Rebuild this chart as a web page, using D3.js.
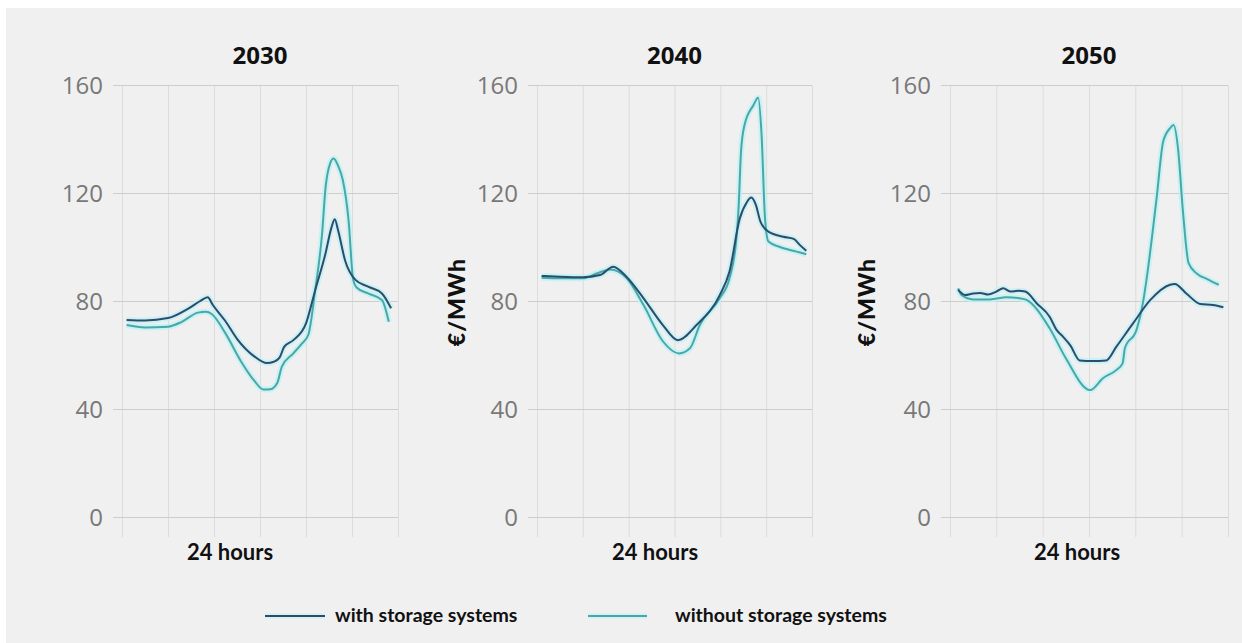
<!DOCTYPE html>
<html>
<head>
<meta charset="utf-8">
<script src="https://cdn.jsdelivr.net/npm/d3@7/dist/d3.min.js"></script>
<style>
  html, body { margin: 0; padding: 0; background: #ffffff; }
  svg { display: block; }
</style>
</head>
<body>
<svg id="chart" width="1242" height="643"></svg>
<script>
// ---------- DATA ----------
const years = ["2030", "2040", "2050"];
const yTicks = [0, 40, 80, 120, 160];
const xTicks = [0, 4, 8, 12, 16, 20, 24];
const xAxisTitle = "24 hours";
const yAxisTitle = "€/MWh";
const seriesNames = ["with storage systems", "without storage systems"];

const hours2030With = [0.4, 2, 4, 5.8, 6.8, 7.45, 7.9, 9, 10, 11.5, 12.6, 13.2, 13.7, 14.1, 14.9, 16, 16.8, 17.7, 18.2, 18.5, 18.8, 19.4, 20.3, 21.4, 22.6, 23.4];
const price2030With = [73, 72.8, 73.7, 77.3, 80, 81.4, 78.5, 72.5, 66, 59.5, 57, 57.5, 59, 63, 65.5, 71.7, 84, 97.7, 107, 110.3, 106, 95, 87.8, 85.3, 82.8, 77.3];
const hours2030Without = [0.4, 2, 4, 5.2, 6.6, 7.3, 7.8, 9, 10.3, 11.5, 12.3, 12.9, 13.5, 13.9, 14.9, 15.6, 16.2, 16.8, 17.4, 17.7, 18.1, 18.4, 18.8, 19.2, 19.7, 20.1, 20.4, 21.4, 22.6, 23.2];
const price2030Without = [71.1, 70.2, 70.5, 72.3, 75.7, 76, 75.2, 68, 58, 50.5, 47.2, 47.3, 49.6, 55.7, 60.6, 64, 67.5, 84, 105, 122, 131, 132.8, 130, 124.8, 110, 88, 85, 82.8, 80.4, 72.3];

const hours2040With = [0.4, 2, 4, 5.5, 6.65, 7.8, 9.3, 11, 12.3, 13.9, 15.95, 16.8, 17.7, 18.3, 18.7, 19.1, 19.5, 20.2, 21.5, 22.4, 22.95, 23.5];
const price2040With = [89.3, 89, 88.8, 89.6, 92.7, 89, 81, 71, 65.5, 71, 82.2, 90.9, 110.6, 116.5, 118.3, 115.6, 109.4, 105.7, 103.8, 103, 100.7, 98.6];
const hours2040Without = [0.4, 2, 4, 5.2, 6.4, 7.8, 9.3, 11, 12.4, 13.35, 14.2, 15.95, 16.8, 17.4, 17.6, 17.8, 18.1, 18.9, 19.3, 19.6, 19.9, 20.2, 21.2, 22.65, 23.5];
const price2040Without = [88.6, 88.4, 88.4, 90.2, 91.7, 88.6, 78.5, 65, 60.6, 62.5, 71, 81, 88.4, 103, 115, 135, 145, 152.6, 155.3, 141.5, 110.6, 102, 100, 98.3, 97.3];

const hours2050With = [0.7, 1.3, 2, 2.6, 3.3, 4, 4.6, 5.2, 5.9, 6.5, 7.5, 8.6, 9.2, 9.75, 10.4, 11.2, 12.3, 13.5, 14.35, 15.8, 17.3, 19, 19.4, 20.4, 21.6, 22.7, 23.6];
const price2050With = [84.1, 82.2, 82.8, 83, 82.4, 83.5, 84.7, 83.5, 83.8, 83.5, 79.1, 74.2, 69.3, 66.8, 63.5, 58, 57.8, 58, 63, 71.7, 80.4, 86, 86.3, 82.8, 78.9, 78.5, 77.7];
const hours2050Without = [0.7, 1, 2, 3.45, 4.9, 6, 6.6, 8.6, 10, 12.1, 13.2, 14.35, 14.9, 15.1, 16.1, 16.7, 17, 17.85, 18.4, 19, 19.3, 19.7, 20.1, 20.6, 21.3, 22.2, 23.2];
const price2050Without = [84.7, 82.2, 80.6, 80.6, 81.4, 81, 80.4, 69.9, 58.8, 47, 51.4, 54.4, 56.9, 62.5, 69.3, 80.4, 89, 118.6, 139, 144, 145.2, 135.9, 113.7, 94, 90.2, 88.1, 86];

const withHours = [hours2030With, hours2040With, hours2050With];
const withPrices = [price2030With, price2040With, price2050With];
const withoutHours = [hours2030Without, hours2040Without, hours2050Without];
const withoutPrices = [price2030Without, price2040Without, price2050Without];

// ---------- LAYOUT ----------
const W = 1242, H = 643;
const colWith = "#2f4b6b";
const colWithout = "#48a8a7";
const glow = "#bdf1f6";
const plotTop = 85, plotBottom = 517, gridBottom = 537;
const panels = [
  { x0: 122, x1: 398, hoursX: 230, yLabelX: null },
  { x0: 537, x1: 812, hoursX: 655, yLabelX: 457 },
  { x0: 950, x1: 1228, hoursX: 1077, yLabelX: 867 }
];

const svg = d3.select("#chart");
svg.append("rect").attr("x", 0).attr("y", 0).attr("width", W).attr("height", H).attr("fill", "#ffffff");
svg.append("rect").attr("x", 6).attr("y", 8).attr("width", W - 6).attr("height", H - 8).attr("fill", "#f0f0f0");

const y = d3.scaleLinear().domain([0, 160]).range([plotBottom, plotTop]);

panels.forEach((p, i) => {
  const g = svg.append("g");
  const x = d3.scaleLinear().domain([0, 24]).range([p.x0, p.x1]);

  // vertical grid (x axis ticks)
  const xa = g.append("g")
    .attr("transform", `translate(0,${gridBottom})`)
    .call(d3.axisBottom(x).tickValues(xTicks).tickSize(-(gridBottom - plotTop)).tickFormat(""));
  xa.select(".domain").remove();
  xa.selectAll(".tick line").attr("stroke", "#dcdcdc").attr("stroke-width", 1);

  // horizontal grid + labels
  const ya = g.append("g")
    .attr("transform", `translate(${p.x0 - 9},0)`)
    .call(d3.axisLeft(y).tickValues(yTicks).tickSize(-(p.x1 - p.x0 + 9)).tickPadding(10));
  ya.select(".domain").remove();
  ya.selectAll(".tick line").attr("stroke", "#cdcdcd").attr("stroke-width", 1);
  ya.selectAll(".tick text")
    .attr("font-family", "'Open Sans', sans-serif")
    .attr("font-size", 24)
    .attr("fill", "#787878")
    .attr("dy", "0.35em");

  // title
  g.append("text")
    .attr("x", (p.x0 + p.x1) / 2).attr("y", 64)
    .attr("text-anchor", "middle")
    .attr("font-family", "'Open Sans', sans-serif")
    .attr("font-weight", 700).attr("font-size", 24).attr("fill", "#111")
    .text(years[i]);

  // x title
  g.append("text")
    .attr("x", p.hoursX).attr("y", 560)
    .attr("text-anchor", "middle")
    .attr("font-family", "Lato, sans-serif")
    .attr("font-weight", 700).attr("font-size", 22).attr("fill", "#111")
    .text(xAxisTitle);

  // y title
  if (p.yLabelX !== null) {
    g.append("text")
      .attr("transform", `translate(${p.yLabelX + 8},302) rotate(-90)`)
      .attr("text-anchor", "middle")
      .attr("font-family", "Lato, sans-serif")
      .attr("font-weight", 900).attr("font-size", 23).attr("fill", "#111")
      .attr("letter-spacing", 1)
      .text(yAxisTitle);
  }

  const line = d3.line().x(d => x(d[0])).y(d => y(d[1])).curve(d3.curveMonotoneX);
  const dWith = withHours[i].map((h, k) => [h, withPrices[i][k]]);
  const dWithout = withoutHours[i].map((h, k) => [h, withoutPrices[i][k]]);

  [dWithout, dWith].forEach(d => {
    g.append("path").datum(d).attr("d", line)
      .attr("fill", "none").attr("stroke", glow).attr("stroke-width", 6)
      .attr("stroke-opacity", 0.75).attr("stroke-linejoin", "round");
  });
  g.append("path").datum(dWithout).attr("d", line)
    .attr("fill", "none").attr("stroke", colWithout).attr("stroke-width", 2).attr("stroke-linejoin", "round");
  g.append("path").datum(dWith).attr("d", line)
    .attr("fill", "none").attr("stroke", colWith).attr("stroke-width", 2).attr("stroke-linejoin", "round");
});

// legend
const legend = svg.append("g");
const legendItems = [
  { name: seriesNames[0], color: colWith, lx0: 265, lx1: 325, tx: 335 },
  { name: seriesNames[1], color: colWithout, lx0: 588, lx1: 647, tx: 675 }
];
legendItems.forEach(it => {
  legend.append("line").attr("x1", it.lx0).attr("x2", it.lx1).attr("y1", 616).attr("y2", 616)
    .attr("stroke", glow).attr("stroke-width", 5).attr("stroke-opacity", 0.6);
  legend.append("line").attr("x1", it.lx0).attr("x2", it.lx1).attr("y1", 616).attr("y2", 616)
    .attr("stroke", it.color).attr("stroke-width", 2);
  legend.append("text").attr("x", it.tx).attr("y", 622)
    .attr("font-family", "Lato, sans-serif").attr("font-weight", 700)
    .attr("font-size", 19.5).attr("fill", "#111")
    .text(it.name);
});
</script>
</body>
</html>
